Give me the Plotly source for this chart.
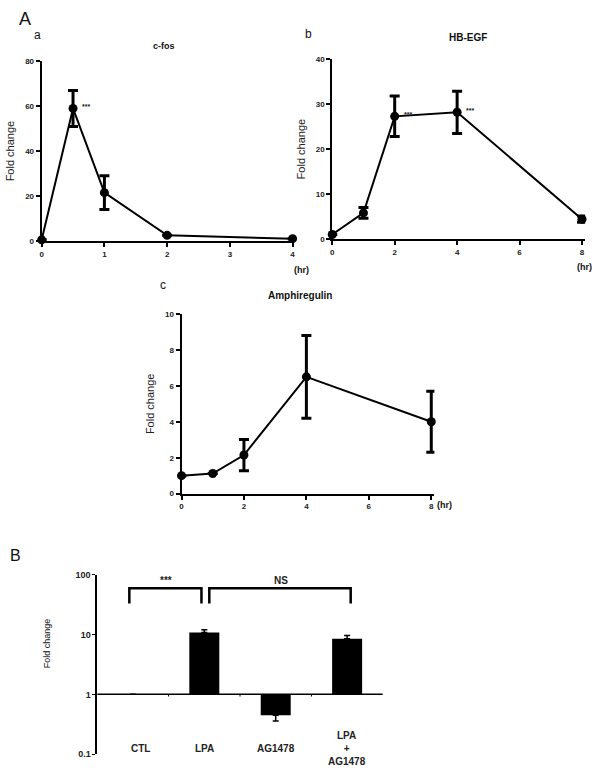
import math
import plotly.graph_objects as go

W, H = 604, 779

# ---------- data ----------
cfos_t = [0, 0.5, 1, 2, 4]
cfos_y = [0.5, 59, 21.5, 2.5, 1.0]
cfos_err = [0, 8, 7.5, 0, 0]

hbegf_t = [0, 1, 2, 4, 8]
hbegf_y = [1.0, 5.8, 27.3, 28.2, 4.4]
hbegf_err = [0, 1.2, 4.5, 4.7, 0.7]

areg_t = [0, 1, 2, 4, 8]
areg_y = [1.0, 1.12, 2.15, 6.5, 4.0]
areg_err = [0, 0, 0.87, 2.3, 1.7]

b_cats = ["CTL", "LPA", "AG1478", "LPA<br>+<br>AG1478"]
b_vals = [1.0, 10.8, 0.45, 8.5]
b_err_plus = [0, 1.2, 0, 1.1]
b_err_minus = [0, 0, 0.09, 0]

FONT = "Liberation Sans, Arial, sans-serif"
TICKC = "#222"

def px_x(p):
    return p / W

def px_y(p):
    return 1 - p / H

fig = go.Figure()

def line_trace(x, y, err, xa, ya):
    fig.add_trace(go.Scatter(
        x=x, y=y, mode="lines+markers", xaxis=xa, yaxis=ya,
        line=dict(color="black", width=2),
        marker=dict(color="black", size=9),
        error_y=dict(type="data", array=err, visible=True, color="black",
                     thickness=3, width=5),
        cliponaxis=False, showlegend=False))

line_trace(cfos_t, cfos_y, cfos_err, "x", "y")
line_trace(hbegf_t, hbegf_y, hbegf_err, "x2", "y2")
line_trace(areg_t, areg_y, areg_err, "x3", "y3")

# Bars for panel B (drawn from baseline 1)
xi = list(range(len(b_cats)))
fig.add_trace(go.Bar(
    x=xi, y=[v - 1 for v in b_vals], base=[1] * len(b_vals),
    xaxis="x4", yaxis="y4", marker=dict(color="black", line=dict(width=0)),
    width=0.42, showlegend=False))
fig.add_trace(go.Scatter(
    x=xi, y=b_vals, mode="markers", xaxis="x4", yaxis="y4",
    marker=dict(size=1, color="rgba(0,0,0,0)"),
    error_y=dict(type="data", symmetric=False, array=b_err_plus,
                 arrayminus=b_err_minus, color="black", thickness=1.5, width=3),
    showlegend=False, cliponaxis=False))

tickfont = dict(family=FONT, size=8, color=TICKC, weight="bold")
axcommon = dict(showline=True, linecolor="black", linewidth=2, ticks="outside",
                ticklen=4, tickwidth=2, tickcolor="black", showgrid=False,
                zeroline=False, tickfont=tickfont, fixedrange=True)

ytitle = dict(text="Fold change", font=dict(family=FONT, size=11, color="#222"))

fig.update_layout(
    width=W, height=H, margin=dict(l=0, r=0, t=0, b=0),
    plot_bgcolor="white", paper_bgcolor="white",
    xaxis=dict(domain=[px_x(40), px_x(293)], range=[0, 4], anchor="y",
               tickvals=[0, 1, 2, 3, 4], **axcommon),
    yaxis=dict(domain=[px_y(239), px_y(57)], range=[0, 80], anchor="x",
               tickvals=[0, 20, 40, 60, 80], title=dict(ytitle, standoff=8), **axcommon),
    xaxis2=dict(domain=[px_x(333), px_x(588)], range=[0, 8.1], anchor="y2",
                tickvals=[0, 2, 4, 6, 8], **axcommon),
    yaxis2=dict(domain=[px_y(237), px_y(55)], range=[0, 40], anchor="x2",
                tickvals=[0, 10, 20, 30, 40], title=dict(ytitle, standoff=8), **axcommon),
    xaxis3=dict(domain=[px_x(181), px_x(436)], range=[0, 8.1], anchor="y3",
                tickvals=[0, 2, 4, 6, 8], **axcommon),
    yaxis3=dict(domain=[px_y(495), px_y(313)], range=[0, 10], anchor="x3",
                tickvals=[0, 2, 4, 6, 8, 10], title=dict(ytitle, standoff=8), **axcommon),
    xaxis4=dict(domain=[px_x(96), px_x(384)], range=[-0.5, 3.5], anchor="y4",
                showline=False, showticklabels=False, ticks="", showgrid=False,
                zeroline=False, fixedrange=True),
    yaxis4=dict(domain=[px_y(759), px_y(577)], type="log", range=[-1, 2], anchor="x4",
                tickvals=[0.1, 1, 10, 100], ticktext=["0.1", "1", "10", "100"],
                showline=True, linecolor="black", linewidth=1.5, ticks="outside",
                ticklen=3, tickwidth=1, tickcolor="black", showgrid=False,
                zeroline=False, tickfont=dict(family=FONT, size=9, color=TICKC, weight="bold"),
                fixedrange=True),
    bargap=0.5,
)

shapes = []
# baseline at 1 for panel B
shapes.append(dict(type="line", xref="x4", yref="y4", x0=-0.5, x1=3.5, y0=1, y1=1,
                   line=dict(color="black", width=1.5)))
for k in [0.5, 1.5, 2.5]:
    shapes.append(dict(type="line", xref="x4", yref="y4", x0=k, x1=k, y0=1, y1=0.92,
                       line=dict(color="black", width=1)))
# significance brackets
def bracket(xa, xb, top=59, leg=33):
    shapes.append(dict(type="path", xref="x4", yref="y4",
                       path=f"M {xa},{leg} L {xa},{top} L {xb},{top} L {xb},{leg}",
                       line=dict(color="black", width=2.5)))
bracket(-0.05, 0.96)
bracket(1.07, 3.05)
fig.update_layout(shapes=shapes)

ann = []
def text(x, y, s, size, bold=False, xanchor="center", **kw):
    ann.append(dict(x=px_x(x), y=px_y(y), xref="paper", yref="paper",
                    text=f"<b>{s}</b>" if bold else s, showarrow=False,
                    xanchor=xanchor, yanchor="middle",
                    font=dict(family=FONT, size=size, color="#111"), **kw))

text(23, 14, "A", 18)
text(36, 30, "a", 12)
text(309, 29, "b", 12)
text(162, 284, "c", 12)
text(14, 558, "B", 16)
text(163, 42, "c-fos", 9, bold=True)
text(470, 33, "HB-EGF", 10, bold=True)
text(300, 294, "Amphiregulin", 10, bold=True)
text(292, 268, "(hr)", 9, bold=True, xanchor="left")
text(578, 265, "(hr)", 9, bold=True, xanchor="left")
text(437, 507, "(hr)", 9, bold=True, xanchor="left")
text(45, 647, "Fold change", 9, textangle=-90)

# significance stars panel A
for (xa, ya, xv, yv) in [("x", "y", 0.5, 59), ("x2", "y2", 2, 27.3), ("x2", "y2", 4, 28.2)]:
    ann.append(dict(x=xv, y=yv, xref=xa, yref=ya, text="<b>***</b>", showarrow=False,
                    xanchor="left", xshift=7, yshift=2,
                    font=dict(family=FONT, size=7, color="#222")))

# panel B texts
ann.append(dict(x=0.47, y=math.log10(80), xref="x4", yref="y4", text="<b>***</b>",
                showarrow=False, font=dict(family=FONT, size=10, color="#222")))
ann.append(dict(x=2.07, y=math.log10(80), xref="x4", yref="y4", text="<b>NS</b>",
                showarrow=False, font=dict(family=FONT, size=10, color="#222")))
for i, c in enumerate(b_cats):
    ann.append(dict(x=i + (0.1 if i == 0 else 0), y=math.log10(0.127), xref="x4", yref="y4",
                    text=f"<b>{c}</b>", showarrow=False, yanchor="middle",
                    font=dict(family=FONT, size=10, color="#222")))
fig.update_layout(annotations=ann)

fig.write_html("out.html", config={"displayModeBar": False},
               post_script="document.body.style.margin='0';document.body.style.padding='0';document.body.style.overflow='hidden';")
